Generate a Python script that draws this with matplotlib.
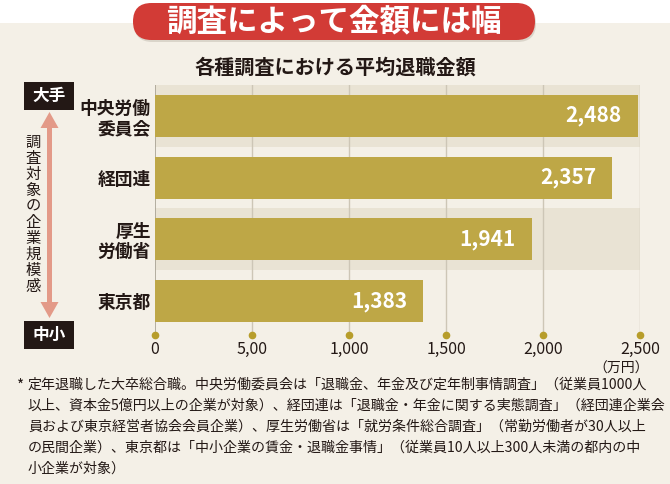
import matplotlib
matplotlib.use('Agg')
import matplotlib.pyplot as plt
from matplotlib.patches import FancyBboxPatch, Rectangle, Polygon

plt.rcParams['font.family'] = ['Noto Sans CJK JP', 'DejaVu Sans']

# ---- data ----
categories = ['中央労働\n委員会', '経団連', '厚生\n労働省', '東京都']
values = [2488, 2357, 1941, 1383]
value_labels = ['2,488', '2,357', '1,941', '1,383']
xticks = [0, 500, 1000, 1500, 2000, 2500]
xtick_labels = ['0', '5,00', '1,000', '1,500', '2,000', '2,500']
title = '調査によって金額には幅'
subtitle = '各種調査における平均退職金額'
unit = '（万円）'
top_label = '大手'
bottom_label = '中小'
side_label = '調査対象の企業規模感'
footnote_lines = [
    '定年退職した大卒総合職。中央労働委員会は「退職金、年金及び定年制事情調査」（従業員1000人',
    '以上、資本金5億円以上の企業が対象）、経団連は「退職金・年金に関する実態調査」（経団連企業会',
    '員および東京経営者協会会員企業）、厚生労働省は「就労条件総合調査」（常勤労働者が30人以上',
    'の民間企業）、東京都は「中小企業の賃金・退職金事情」（従業員10人以上300人未満の都内の中',
    '小企業が対象）',
]

# ---- styles ----
BG = '#f4f0e7'
BAND = '#e9e3d4'
BAR = '#bea746'
DOT = '#b79d2b'
GRID = '#cdc6b6'
DARK = '#231815'
RED = '#d23b36'
ARROW = '#e39a88'

W, H = 670, 484
fig = plt.figure(figsize=(W / 100, H / 100), dpi=100)
fig.patch.set_facecolor('white')

bg = fig.add_axes([0, 0, 1, 1], zorder=0)
bg.set_xlim(0, W)
bg.set_ylim(H, 0)
bg.axis('off')
bg.add_patch(Rectangle((0, 23), W, H - 23, color=BG, lw=0))

# title pill
bg.add_patch(FancyBboxPatch((134, 5), 402, 37, boxstyle='round,pad=0,rounding_size=18.5',
                            fc='#c9c3b8', ec='none', alpha=0.6))
bg.add_patch(FancyBboxPatch((133, 3), 402, 37, boxstyle='round,pad=0,rounding_size=18.5',
                            fc=RED, ec='none'))
bg.text(334, 21.5, title, ha='center', va='center', color='white', fontsize=22, fontweight='bold')
bg.text(335, 67, subtitle, ha='center', va='center', color=DARK, fontsize=14.5, fontweight='bold')

# left side scale indicator
for (y0, lab) in [(82, top_label), (321, bottom_label)]:
    bg.add_patch(Rectangle((24, y0), 50, 28, color=DARK, lw=0))
    bg.text(49, y0 + 14, lab, ha='center', va='center', color='white', fontsize=12, fontweight='bold')

cx, yt, yb, sw, hw, hl = 49.5, 112, 318, 2.5, 9, 16
arrow_pts = [(cx, yt), (cx + hw, yt + hl), (cx + sw, yt + hl), (cx + sw, yb - hl), (cx + hw, yb - hl),
             (cx, yb), (cx - hw, yb - hl), (cx - sw, yb - hl), (cx - sw, yt + hl), (cx - hw, yt + hl)]
bg.add_patch(Polygon(arrow_pts, closed=True, fc=ARROW, ec='none'))
for k, ch in enumerate(side_label):
    bg.text(33, 142 + k * 16.1, ch, ha='center', va='center', color=DARK, fontsize=11)

# unit and footnote
bg.text(621, 369, unit, ha='center', va='center', color=DARK, fontsize=10)
bg.text(17, 386, '*', ha='left', va='center', color=DARK, fontsize=11)
for k, line in enumerate(footnote_lines):
    bg.text(28, 385 + k * 21, line, ha='left', va='center', color=DARK, fontsize=10.1)

# ---- main chart ----
ax = fig.add_axes([155 / W, (H - 335) / H, 485 / W, 250 / H], zorder=1)
ax.set_facecolor('none')
ax.set_xlim(0, 2500)
ax.set_ylim(3.55, -0.5)
for s in ax.spines.values():
    s.set_visible(False)

ax.axhspan(-0.5, 0.5, color=BAND, lw=0, zorder=0)
ax.axhspan(1.5, 2.5, color=BAND, lw=0, zorder=0)
for x in xticks[1:]:
    ax.axvline(x, color=GRID, lw=1, zorder=0.5)
ax.axvline(0, color='#a8a294', lw=1.2, zorder=0.6)

ypos = list(range(len(categories)))
ax.barh(ypos, values, height=0.68, color=BAR, zorder=2)
for y, v, lab in zip(ypos, values, value_labels):
    ax.text(v - 82, y, lab, ha='right', va='center', color='white', fontsize=15, fontweight='bold', zorder=3)

ax.plot(xticks, [3.55] * len(xticks), 'o', ms=4.5, color=DOT, clip_on=False, zorder=3)

ax.set_xticks(xticks, xtick_labels)
ax.set_yticks(ypos, categories)
ax.tick_params(axis='x', length=0, pad=4.5, labelsize=11.5, labelcolor=DARK)
ax.tick_params(axis='y', length=0, pad=3, labelsize=12.8, labelcolor=DARK)
for t in ax.get_yticklabels():
    t.set_fontweight('bold')
    t.set_linespacing(1.15)

fig.savefig('out.png', dpi=100, facecolor=fig.get_facecolor())
